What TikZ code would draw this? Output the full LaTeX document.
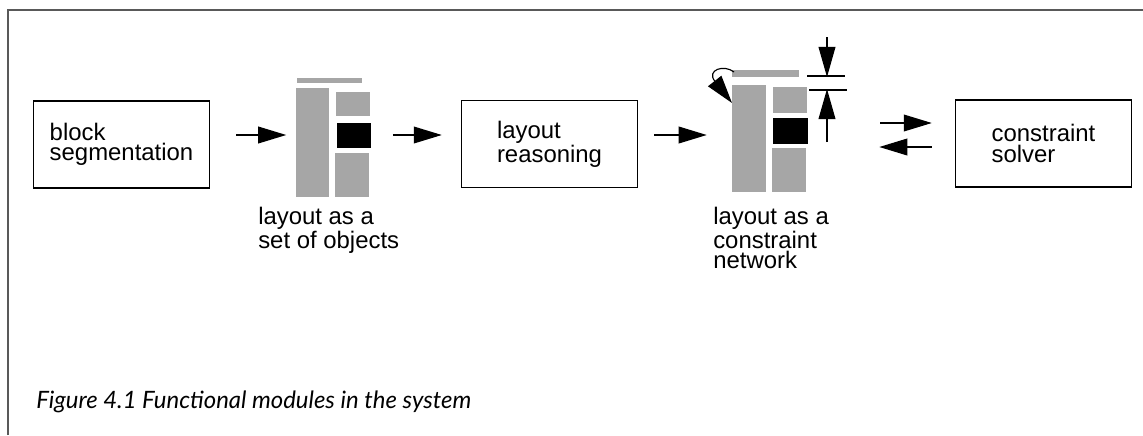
\documentclass[tikz,border=0pt]{standalone}
\usepackage{fontspec}
\setmainfont{Liberation Sans}
\newfontfamily\capfont{Lato}
\usetikzlibrary{arrows.meta}
\begin{document}
\begin{tikzpicture}[x=0.025cm, y=-0.025cm,
  module/.style={rectangle, draw, line width=1pt, minimum width=4.4cm, minimum height=2.175cm, align=left, font=\fontsize{17}{14.5}\selectfont},
  note/.style={align=left, inner sep=0pt, font=\fontsize{17}{14.5}\selectfont},
  iconbox/.style={inner sep=0pt, minimum width=1.9cm, minimum height=0.1cm},
  dots/.style={fill=black!35},
  ink/.style={fill=black},
  frame/.style={draw=black!65, line width=1.5pt},
  arrow/.style={-{Triangle[length=0.7cm,width=0.42cm]}, line width=0.8pt},
  dimarrow/.style={-{Triangle[length=0.75cm,width=0.42cm]}, line width=0.8pt}
]
  \useasboundingbox (0,0) rectangle (1143,435);
  \draw[frame] (8,435) |- (1143,10);

  \node[module] (seg) at (121.5,144.5) {block\\segmentation};
  \node[module] (reason) at (549.5,144) {layout\\reasoning};
  \node[module] (solver) at (1043.5,143.5) {constraint\\solver};

  % layout as a set of objects
  \node[iconbox] (objs) at (333.5,135) {};
  \fill[dots] (297,78) rectangle (362,83);
  \fill[dots] (296,88) rectangle (329,197);
  \fill[dots] (336,92) rectangle (370,116);
  \fill[ink] (337,123) rectangle (371,148);
  \fill[dots] (335,153) rectangle (369,197);
  \node[note, anchor=north west] (objslabel) at (258,207) {layout as a\\set of objects};

  % layout as a constraint network
  \node[iconbox] (net) at (770,135) {};
  \fill[dots] (732,70) rectangle (799,77);
  \fill[dots] (732,85) rectangle (766,192);
  \fill[dots] (773,87) rectangle (807,113);
  \fill[ink] (773,118) rectangle (808,144);
  \fill[dots] (772,148) rectangle (806,192);
  \draw[line width=0.8pt] (807,76) -- (845,76) (809,90) -- (847,90);
  \draw[dimarrow] (827,37) -- (827,77);
  \draw[dimarrow] (827,142) -- (827,89);
  \draw[arrow] (734,72) .. controls (724,64) and (706,70) .. (732,103);
  \node[note, anchor=north west] (netlabel) at (713,207) {layout as a\\constraint\\network};

  \coordinate (fwd) at (0,123);
  \coordinate (back) at (0,147);
  \draw[arrow, shorten <=0.65cm, shorten >=0.225cm] (seg.east |- objs) -- (objs.west);
  \draw[arrow, shorten <=0.525cm, shorten >=0.475cm] (objs.east) -- (reason.west |- objs);
  \draw[arrow, shorten <=0.4cm, shorten >=0.625cm] (reason.east |- net) -- (net.west);
  \draw[arrow, shorten <=1.8cm, shorten >=0.575cm] (net.east |- fwd) -- (solver.west |- fwd);
  \draw[arrow, shorten <=0.575cm, shorten >=1.775cm] (solver.west |- back) -- (net.east |- back);

  \node[anchor=base west, inner sep=0pt, font=\capfont\itshape\fontsize{17}{20}\selectfont] (cap) at (36,408) {Figure 4.1 Functional modules in the system};
\end{tikzpicture}
\end{document}
